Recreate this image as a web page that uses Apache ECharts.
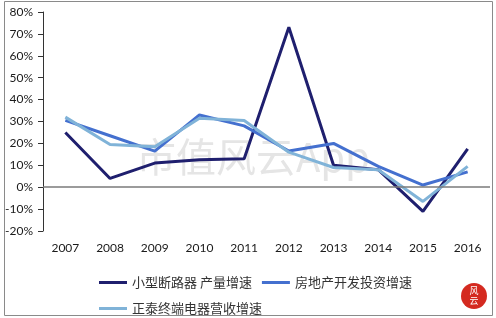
<!DOCTYPE html>
<html>
<head>
<meta charset="utf-8">
<script src="https://cdn.jsdelivr.net/npm/echarts@6/dist/echarts.min.js"></script>
<style>
html, body { margin: 0; padding: 0; background: #fff; }
#chart { width: 496px; height: 318px; }
</style>
</head>
<body>
<div id="chart"></div>
<script>
// 年份
var years = ['2007', '2008', '2009', '2010', '2011', '2012', '2013', '2014', '2015', '2016'];
// 增速 (%)
var breakerOutput = [25, 4, 11, 12.5, 13, 73, 10, 8, -11, 17.5];
var realEstateInvest = [30.5, 23.5, 16.5, 33, 28, 16.5, 20, 9.5, 1, 7];
var chintRevenue = [32, 19.5, 18.5, 31.5, 30.5, 16, 9, 8, -6.5, 9.5];
var names = ['小型断路器 产量增速', '房地产开发投资增速', '正泰终端电器营收增速'];

var chart = echarts.init(document.getElementById('chart'));
var font = 'Lato, "Open Sans", sans-serif';
var cjk = '"Noto Sans CJK SC", sans-serif';

chart.setOption({
  animation: false,
  grid: { left: 43, right: 6, top: 12, bottom: 87 },
  legend: [
    {
      data: [names[0], names[1]],
      left: 94, top: 271,
      icon: 'rect', itemWidth: 28, itemHeight: 3, itemGap: 10,
      textStyle: { fontFamily: cjk, fontSize: 13, color: '#333' }
    },
    {
      data: [names[2]],
      left: 94, top: 297,
      icon: 'rect', itemWidth: 28, itemHeight: 3,
      textStyle: { fontFamily: cjk, fontSize: 13, color: '#333' }
    }
  ],
  xAxis: {
    type: 'category',
    data: years,
    boundaryGap: true,
    axisLine: { show: false, onZero: false },
    axisTick: { show: false },
    axisLabel: { color: '#1a1a1a', fontSize: 12, fontFamily: font, margin: 11 }
  },
  yAxis: {
    type: 'value',
    min: -20, max: 80, interval: 10,
    axisLine: { show: true, lineStyle: { color: '#333', width: 1 } },
    axisTick: { show: true, length: 5, lineStyle: { color: '#333' } },
    splitLine: { show: false },
    axisLabel: { formatter: '{value}%', color: '#1a1a1a', fontSize: 12, fontFamily: font, margin: 10 }
  },
  graphic: [
    {
      type: 'rect', silent: true, z: 0,
      shape: { x: 4.5, y: 1.5, width: 488, height: 314 },
      style: { fill: 'none', stroke: '#8a8a8a', lineWidth: 1 }
    },
    {
      type: 'text', silent: true, z: 0,
      x: 136, y: 157,
      style: { text: '市值风云App', font: '40px "Noto Sans CJK SC"', fill: 'rgba(190,190,190,0.4)', verticalAlign: 'middle' }
    },
    {
      type: 'circle', silent: true, z: 0,
      shape: { cx: 474, cy: 296, r: 13 },
      style: { fill: '#d42a20' }
    },
    {
      type: 'text', silent: true, z: 1,
      x: 474, y: 296,
      style: { text: '风\n云', font: '9px "Noto Sans CJK SC"', fill: '#fff', align: 'center', verticalAlign: 'middle', lineHeight: 10 }
    }
  ],
  series: [
    {
      name: names[0], type: 'line', data: breakerOutput,
      symbol: 'none', color: '#1f1f6e',
      lineStyle: { width: 3 },
      markLine: {
        silent: true, symbol: 'none',
        label: { show: false },
        lineStyle: { color: '#7a7a7a', width: 1.5, type: 'solid' },
        data: [{ yAxis: 0 }]
      }
    },
    {
      name: names[1], type: 'line', data: realEstateInvest,
      symbol: 'none', color: '#4470cf',
      lineStyle: { width: 3 }
    },
    {
      name: names[2], type: 'line', data: chintRevenue,
      symbol: 'none', color: '#80b3d8',
      lineStyle: { width: 3 }
    }
  ]
});
</script>
</body>
</html>
